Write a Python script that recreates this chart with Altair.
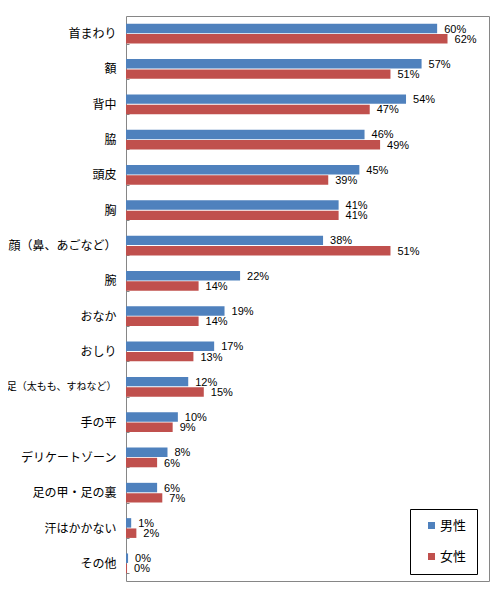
import altair as alt
import pandas as pd

categories = ["首まわり", "額", "背中", "脇", "頭皮", "胸", "顔（鼻、あごなど）", "腕", "おなか",
              "おしり", "足（太もも、すねなど）", "手の平", "デリケートゾーン", "足の甲・足の裏",
              "汗はかかない", "その他"]
series = ["男性", "女性"]
male = [60, 57, 54, 46, 45, 41, 38, 22, 19, 17, 12, 10, 8, 6, 1, 0.4]
female = [62, 51, 47, 49, 39, 41, 51, 14, 14, 13, 15, 9, 6, 7, 2, 0.2]
colors = ["#4F81BD", "#C0504D"]

rows = []
for c, m, f in zip(categories, male, female):
    rows.append({"cat": c, "sex": "男性", "v": m, "label": f"{round(m)}%"})
    rows.append({"cat": c, "sex": "女性", "v": f, "label": f"{round(f)}%"})
df = pd.DataFrame(rows)

y = alt.Y(
    "cat:N", sort=categories,
    scale=alt.Scale(paddingInner=0.44, paddingOuter=0.22),
    axis=alt.Axis(
        title=None, domain=False, tickBand="extent", tickSize=3, tickColor="#868686",
        offset=-3, labelPadding=10, labelFont="Noto Sans CJK JP",
        labelFontSize={"condition": {"test": "datum.value === '足（太もも、すねなど）'", "value": 10}, "value": 12},
        labelColor="black", labelLimit=300,
    ),
)
yoff = alt.YOffset("sex:N", sort=series, scale=alt.Scale(paddingInner=0.08, paddingOuter=0))
x = alt.X("v:Q", scale=alt.Scale(domain=[0, 70], nice=False), axis=None)

bars = alt.Chart(df).mark_bar().encode(
    x=x, y=y, yOffset=yoff,
    color=alt.Color(
        "sex:N", scale=alt.Scale(domain=series, range=colors),
        legend=alt.Legend(
            title=None, orient="none", legendX=284, legendY=493,
            labelFont="Noto Sans CJK JP", labelFontSize=13, labelColor="black",
            symbolType="square", symbolSize=49, symbolStrokeWidth=0,
            padding=10, symbolOffset=5, labelOffset=2, rowPadding=17,
            strokeColor="black", fillColor="white",
        ),
    ),
)
text = alt.Chart(df).mark_text(
    align="left", baseline="middle", dx=7, dy=1,
    font="Liberation Sans", fontSize=11, color="black",
).encode(x=x, y=y, yOffset=yoff, text="label:N")

chart = alt.layer(bars, text).properties(
    width=363, height=565,
    autosize=alt.AutoSizeParams(type="none"),
    padding={"left": 118, "top": 8, "right": 3, "bottom": 3},
).configure_view(stroke="#868686", strokeWidth=1)

chart.save("out.html", embed_options={"renderer": "svg", "actions": False})
